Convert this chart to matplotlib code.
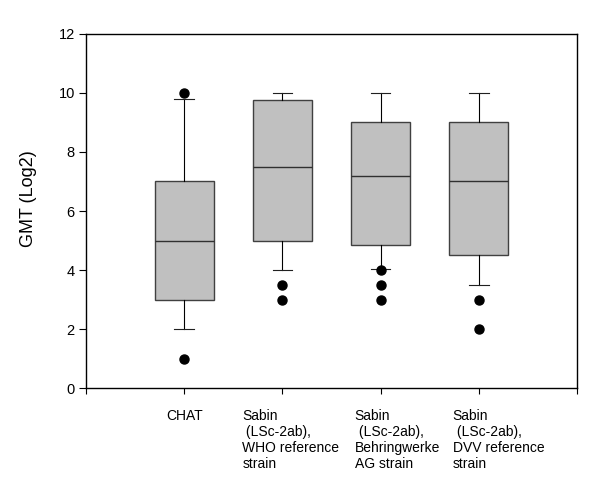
import matplotlib
matplotlib.use("Agg")
import matplotlib.pyplot as plt
import matplotlib.transforms as mtransforms

plt.rcParams['font.family'] = ['Liberation Sans', 'DejaVu Sans']

# values
groups = ["CHAT",
          "Sabin\n (LSc-2ab),\nWHO reference\nstrain",
          "Sabin\n (LSc-2ab),\nBehringwerke\nAG strain",
          "Sabin\n (LSc-2ab),\nDVV reference\nstrain"]
whislo = [2.0, 4.0, 4.05, 3.5]
q1 = [3.0, 5.0, 4.85, 4.5]
med = [5.0, 7.5, 7.2, 7.0]
q3 = [7.0, 9.75, 9.0, 9.0]
whishi = [9.8, 10.0, 10.0, 10.0]
fliers = [[1.0, 10.0], [3.5, 3.0], [4.0, 3.5, 3.0], [3.0, 2.0]]

stats = []
for i in range(len(groups)):
    stats.append(dict(label=groups[i], whislo=whislo[i], q1=q1[i], med=med[i],
                      q3=q3[i], whishi=whishi[i], fliers=fliers[i]))

fig = plt.figure(figsize=(6.0, 4.99), dpi=100)
ax = fig.add_axes([0.1433, 0.2224, 0.8184, 0.7095])

pos = list(range(1, len(groups) + 1))
ax.bxp(stats, positions=pos, widths=0.6, patch_artist=True, showfliers=True,
       capwidths=0.2,
       boxprops=dict(facecolor='#c0c0c0', edgecolor='#404040', linewidth=1.0),
       medianprops=dict(color='#303030', linewidth=1.0),
       whiskerprops=dict(color='black', linewidth=0.8),
       capprops=dict(color='#202020', linewidth=0.8),
       flierprops=dict(marker='o', markerfacecolor='black', markeredgecolor='black',
                       markersize=6.5, linestyle='none'))

ax.set_xlim(0, 5)
ax.set_ylim(0, 12)
ax.set_yticks([0, 2, 4, 6, 8, 10, 12])
ax.set_xticks([0] + pos + [5])
ax.set_xticklabels([''] + groups + [''], fontsize=10, ha='left',
                   multialignment='left', va='top')
ax.tick_params(axis='y', direction='out', length=5, width=0.8, labelsize=10.5, pad=3)
ax.tick_params(axis='x', direction='out', length=4, width=0.8, pad=11)

# horizontal shift of each label (pixels), CHAT is centred
shift_px = [0, 0, -40, -26, -26, 0]
labels = ax.get_xticklabels()
for lab, dx in zip(labels, shift_px):
    lab.set_transform(lab.get_transform() + mtransforms.ScaledTranslation(dx / 100, 0, fig.dpi_scale_trans))
labels[1].set_ha('center')

for s in ax.spines.values():
    s.set_linewidth(1.0)

ax.set_ylabel("GMT (Log2)", fontsize=13)
ax.yaxis.set_label_coords(-0.1, 0.535)

fig.savefig("out.png", dpi=100)
